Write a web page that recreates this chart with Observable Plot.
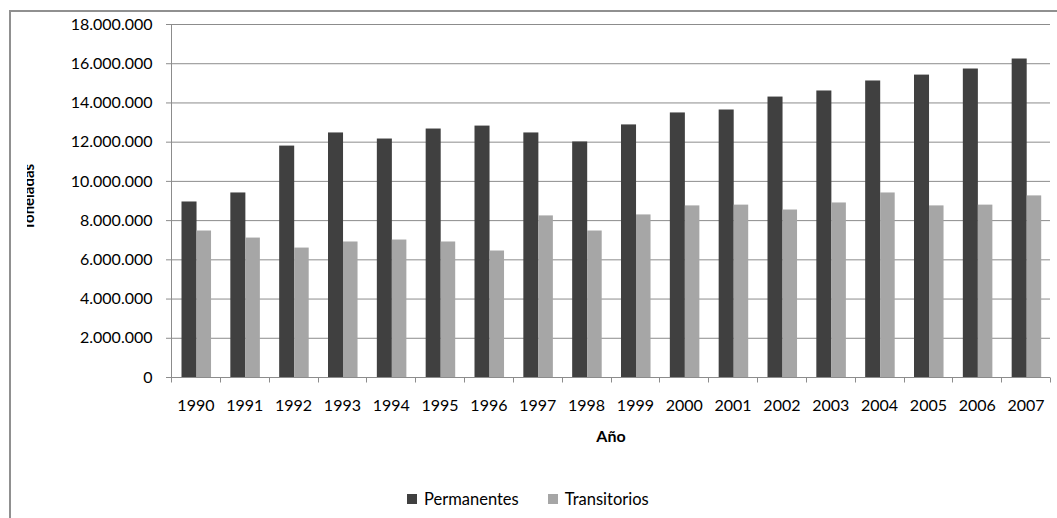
<!DOCTYPE html>
<html><head><meta charset="utf-8">
<script src="https://cdn.jsdelivr.net/npm/d3@7"></script>
<script src="https://cdn.jsdelivr.net/npm/@observablehq/plot@0.6"></script>
<style>
html,body{margin:0;padding:0;background:#fff;overflow:hidden;width:1057px;height:518px;}
body{position:relative;font-family:Lato,"Open Sans",sans-serif;color:#000;}
#frame{position:absolute;left:9px;top:10px;width:1200px;height:700px;border:2px solid #909090;box-sizing:border-box;pointer-events:none;}
#chart{position:absolute;left:0;top:0;}
#ylab{position:absolute;left:27px;top:137px;width:10px;height:120px;overflow:hidden;}
#ylab div{position:absolute;left:-7px;top:0;width:120px;height:16px;line-height:16px;text-align:center;font-weight:bold;font-size:15px;transform-origin:0 0;transform:rotate(-90deg) translateX(-120px);white-space:nowrap;}
#legend{position:absolute;left:407px;top:489px;height:20px;display:flex;align-items:center;font-size:16.5px;}
#legend .item{display:flex;align-items:center;}
#legend .sw{width:10px;height:10px;margin-right:7px;}
#legend .item + .item{margin-left:29px;}
</style>
</head><body>
<div id="chart"></div>
<div id="ylab"><div>Toneladas</div></div>
<div id="legend"></div>
<div id="frame"></div>
<script>
const years = ["1990","1991","1992","1993","1994","1995","1996","1997","1998","1999","2000","2001","2002","2003","2004","2005","2006","2007"];
const permanentes = [8950000, 9410000, 11800000, 12470000, 12160000, 12670000, 12820000, 12470000, 12010000, 12880000, 13490000, 13640000, 14300000, 14610000, 15120000, 15420000, 15730000, 16240000];
const transitorios = [7470000, 7110000, 6600000, 6910000, 7010000, 6910000, 6450000, 8240000, 7470000, 8290000, 8750000, 8790000, 8540000, 8900000, 9410000, 8750000, 8790000, 9260000];
const series = ["Permanentes", "Transitorios"];
const colors = ["#404040", "#a6a6a6"];
const yTicks = [0, 2000000, 4000000, 6000000, 8000000, 10000000, 12000000, 14000000, 16000000, 18000000];
const xTitle = "Año";

const gridColor = "#8c8c8c";
const fmt = d3.formatLocale({decimal: ",", thousands: ".", grouping: [3], currency: ["", ""]}).format(",d");

const rows = years.flatMap((yr, i) => [
  {year: yr, serie: series[0], value: permanentes[i]},
  {year: yr, serie: series[1], value: transitorios[i]}
]);

function axisFrame(index, scales, values, dim) {
  const g = d3.create("svg:g").attr("stroke", gridColor).attr("stroke-width", 1).attr("fill", "none");
  const left = dim.marginLeft, right = dim.width - dim.marginRight;
  const top = dim.marginTop, bottom = dim.height - dim.marginBottom;
  const step = (right - left) / years.length;
  const y0 = Math.round(scales.y(0)) + 0.5;
  g.append("line").attr("x1", left + 0.5).attr("x2", left + 0.5).attr("y1", top).attr("y2", y0);
  for (let k = 0; k <= years.length; k++) {
    const xx = Math.round(left + k * step) + 0.5;
    g.append("line").attr("x1", xx).attr("x2", xx).attr("y1", y0).attr("y2", y0 + 5);
  }
  return g.node();
}

const chart = Plot.plot({
  width: 1057,
  height: 470,
  marginLeft: 171,
  marginRight: 7,
  marginTop: 24,
  marginBottom: 93,
  style: {fontFamily: "Lato, 'Open Sans', sans-serif", fontSize: "16px", color: "#000", background: "transparent"},
  x: {domain: years, padding: 0, round: false},
  y: {domain: [0, 18000000], range: [377, 24]},
  marks: [
    Plot.gridY(yTicks, {stroke: gridColor, strokeOpacity: 1}),
    Plot.axisY(yTicks, {tickSize: 5, tickPadding: 14, tickFormat: fmt, stroke: gridColor, fill: "#000", fontSize: 16, label: null}),
    Plot.axisX({tickSize: 0, tickPadding: 22, fontSize: 16, fill: "#000", label: null}),
    Plot.barY(rows.filter(d => d.serie === series[0]), {x: "year", y: "value", fill: colors[0], insetLeft: 10.5, insetRight: 23.3}),
    Plot.barY(rows.filter(d => d.serie === series[1]), {x: "year", y: "value", fill: colors[1], insetLeft: 25.5, insetRight: 8.8}),
    axisFrame,
    Plot.text([xTitle], {frameAnchor: "bottom", dy: 59, lineAnchor: "middle", fontWeight: "bold", fontSize: 16, fill: "#000"})
  ]
});
document.getElementById("chart").appendChild(chart);

const legend = d3.select("#legend");
series.forEach((s, i) => {
  const it = legend.append("div").attr("class", "item");
  it.append("div").attr("class", "sw").style("background", colors[i]);
  it.append("span").text(s);
});
</script>
</body></html>
